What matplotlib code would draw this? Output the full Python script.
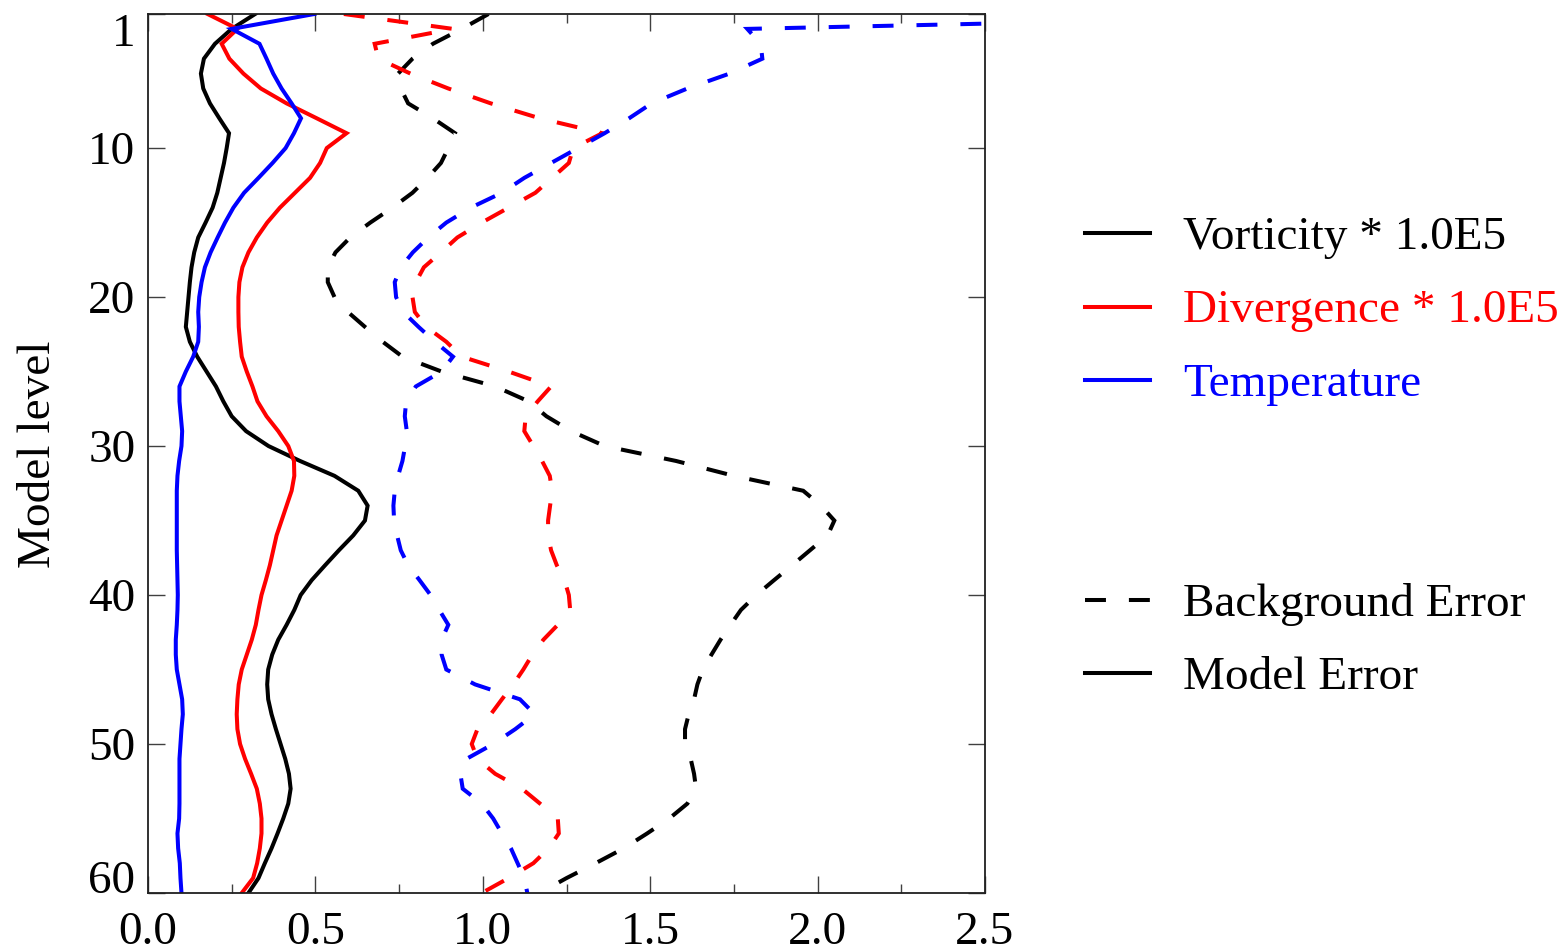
import numpy as np
import matplotlib.pyplot as plt
from matplotlib.lines import Line2D

plt.rcParams['font.family'] = ['Liberation Serif', 'DejaVu Serif']
plt.rcParams['font.size'] = 34

levels = np.arange(1, 61)

# model error (solid)
vort_me = [0.32, 0.25, 0.20, 0.167, 0.158, 0.165, 0.185, 0.213, 0.242, 0.235,
           0.227, 0.217, 0.207, 0.193, 0.172, 0.150, 0.138, 0.130, 0.125, 0.121,
           0.117, 0.113, 0.125, 0.147, 0.175, 0.203, 0.225, 0.25, 0.293, 0.36,
           0.454, 0.557, 0.628, 0.656, 0.648, 0.613, 0.57, 0.529, 0.489, 0.456,
           0.437, 0.414, 0.389, 0.371, 0.359, 0.356, 0.359, 0.369, 0.382, 0.396,
           0.41, 0.421, 0.426, 0.419, 0.404, 0.387, 0.369, 0.349, 0.33, 0.30]
div_me = [0.178, 0.267, 0.22, 0.243, 0.285, 0.337, 0.414, 0.504, 0.593, 0.534,
          0.514, 0.484, 0.439, 0.394, 0.356, 0.325, 0.30, 0.282, 0.273, 0.27,
          0.27, 0.271, 0.275, 0.28, 0.295, 0.312, 0.327, 0.354, 0.389, 0.419,
          0.436, 0.437, 0.429, 0.414, 0.399, 0.384, 0.374, 0.364, 0.352, 0.339,
          0.33, 0.322, 0.31, 0.295, 0.28, 0.271, 0.267, 0.265, 0.267, 0.275,
          0.29, 0.308, 0.325, 0.334, 0.339, 0.339, 0.334, 0.326, 0.314, 0.28]
temp_me = [0.497, 0.25, 0.333, 0.354, 0.374, 0.399, 0.429, 0.457, 0.436, 0.411,
           0.372, 0.33, 0.287, 0.255, 0.23, 0.208, 0.187, 0.17, 0.16, 0.153,
           0.15, 0.152, 0.15, 0.135, 0.113, 0.094, 0.094, 0.098, 0.102, 0.10,
           0.093, 0.088, 0.086, 0.086, 0.086, 0.086, 0.086, 0.087, 0.088, 0.089,
           0.088, 0.086, 0.083, 0.083, 0.086, 0.094, 0.102, 0.104, 0.10, 0.097,
           0.094, 0.094, 0.094, 0.094, 0.093, 0.088, 0.09, 0.095, 0.097, 0.10]

# background error (dashed)
vort_be = [1.017, 0.937, 0.851, 0.79, 0.747, 0.755, 0.777, 0.851, 0.917, 0.897,
           0.875, 0.835, 0.79, 0.73, 0.664, 0.604, 0.56, 0.537, 0.537, 0.557,
           0.597, 0.648, 0.701, 0.76, 0.877, 1.037, 1.137, 1.19, 1.264, 1.364,
           1.577, 1.75, 1.957, 2.01, 2.05, 2.03, 1.977, 1.924, 1.87, 1.817,
           1.771, 1.74, 1.71, 1.683, 1.657, 1.641, 1.631, 1.615, 1.604, 1.604,
           1.621, 1.631, 1.637, 1.611, 1.557, 1.491, 1.421, 1.337, 1.25, 1.17]
div_be = [0.585, 0.911, 0.677, 0.688, 0.784, 0.897, 1.024, 1.17, 1.357, 1.27,
          1.257, 1.207, 1.157, 1.077, 0.997, 0.924, 0.875, 0.824, 0.8, 0.79,
          0.797, 0.831, 0.891, 0.937, 1.077, 1.204, 1.164, 1.128, 1.124, 1.151,
          1.177, 1.2, 1.207, 1.201, 1.195, 1.195, 1.204, 1.221, 1.244, 1.257,
          1.261, 1.224, 1.181, 1.148, 1.121, 1.091, 1.057, 1.024, 0.984, 0.967,
          0.984, 1.037, 1.117, 1.171, 1.224, 1.227, 1.197, 1.151, 1.077, 0.997]
temp_be = [3.8, 1.79, 1.83, 1.835, 1.737, 1.611, 1.504, 1.437, 1.364, 1.284,
           1.204, 1.124, 1.057, 0.964, 0.891, 0.837, 0.791, 0.755, 0.737, 0.741,
           0.762, 0.808, 0.857, 0.911, 0.877, 0.8, 0.771, 0.767, 0.773, 0.768,
           0.76, 0.747, 0.737, 0.733, 0.735, 0.744, 0.755, 0.777, 0.811, 0.844,
           0.87, 0.897, 0.877, 0.877, 0.891, 0.977, 1.111, 1.155, 1.097, 1.031,
           0.951, 0.933, 0.94, 0.997, 1.031, 1.057, 1.084, 1.104, 1.124, 1.133]

var_labels = ['Vorticity * 1.0E5', 'Divergence * 1.0E5', 'Temperature']
var_colors = ['black', 'red', 'blue']
style_labels = ['Background Error', 'Model Error']

xticks = [0.0, 0.5, 1.0, 1.5, 2.0, 2.5]
xminor = [0.25, 0.75, 1.25, 1.75, 2.25]
yticks = [1, 10, 20, 30, 40, 50, 60]

LW = 2.9
DASH = (0, (5.2, 5.7))

fig = plt.figure(figsize=(15.63, 9.5), dpi=100)
ax = fig.add_axes([148 / 1563, 57 / 950, 837 / 1563, 879 / 950])

for vals, c in zip([vort_me, div_me, temp_me], var_colors):
    ax.plot(vals, levels, color=c, lw=LW, solid_joinstyle='miter')
for vals, c in zip([vort_be, div_be, temp_be], var_colors):
    ax.plot(vals, levels, color=c, lw=LW, linestyle=DASH, dash_joinstyle='miter')

ax.set_xlim(0, 2.5)
ax.set_ylim(60, 1)
ax.set_xticks(xticks)
ax.set_xticklabels(['%.1f' % v for v in xticks])
ax.set_xticks(xminor, minor=True)
ax.set_yticks(yticks)
ax.set_yticklabels([str(v) for v in yticks])

ax.tick_params(which='both', direction='in', top=True, right=True,
               width=1.0, color='#404040')
ax.tick_params(axis='x', which='major', length=12.2, pad=13.5)
ax.tick_params(axis='x', which='minor', length=6.5)
ax.tick_params(axis='y', which='major', length=12.2, pad=9)
for s in ax.spines.values():
    s.set_linewidth(1.3)
    s.set_color('#202020')

ylabs = ax.get_yticklabels()
ylabs[0].set_va('top')
ylabs[-1].set_va('baseline')

fig.text(50 / 1563, 1 - 454.5 / 950, 'Model level', rotation=90,
         rotation_mode='anchor', ha='center', va='baseline')

# legend drawn by hand on the right
x0, x1, xt = 1085 / 1563, 1150 / 1563, 1183 / 1563
rows = [233.3, 306.7, 380.0]
for lab, c, r in zip(var_labels, var_colors, rows):
    fig.add_artist(Line2D([x0, x1], [1 - r / 950] * 2, color=c, lw=LW))
    fig.text(xt, 1 - (r + 15.5) / 950, lab, color=c, va='baseline', ha='left')

rows2 = [600.0, 673.3]
for lab, ls, r in zip(style_labels, [DASH, '-'], rows2):
    fig.add_artist(Line2D([x0, x1], [1 - r / 950] * 2, color='black', lw=LW,
                          linestyle=ls))
    fig.text(xt, 1 - (r + 15.5) / 950, lab, color='black', va='baseline', ha='left')

fig.savefig('out.png', dpi=100)
